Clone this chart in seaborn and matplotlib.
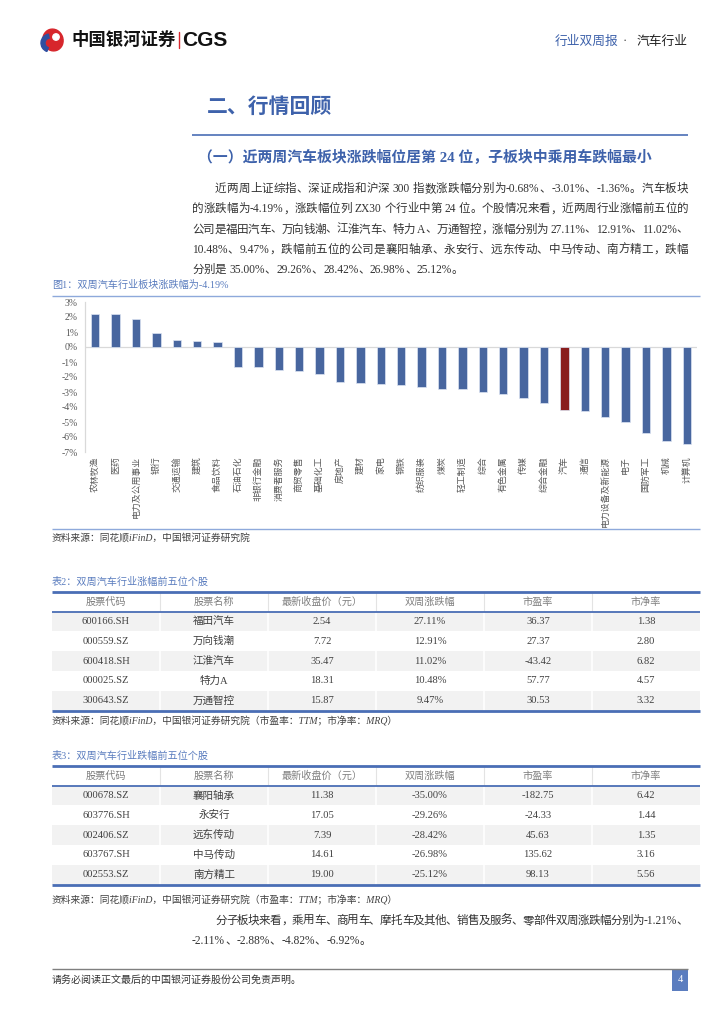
import re
import numpy as np
import pandas as pd
import matplotlib
matplotlib.use("Agg")
import matplotlib.pyplot as plt
import matplotlib.patches as mpatches
import seaborn as sns

# ---- data ----
industries = ['农林牧渔', '医药', '电力及公用事业', '银行', '交通运输', '建筑', '食品饮料',
              '石油石化', '非银行金融', '消费者服务', '商贸零售', '基础化工', '房地产', '建材',
              '家电', '钢铁', '纺织服装', '煤炭', '轻工制造', '综合', '有色金属', '传媒',
              '综合金融', '汽车', '通信', '电力设备及新能源', '电子', '国防军工', '机械', '计算机']
changes = [2.22, 2.18, 1.89, 0.93, 0.44, 0.42, 0.31,
           -1.35, -1.36, -1.56, -1.58, -1.80, -2.36, -2.42,
           -2.49, -2.56, -2.69, -2.78, -2.82, -3.00, -3.13, -3.40,
           -3.73, -4.19, -4.29, -4.69, -4.98, -5.71, -6.29, -6.49]
y_ticks = list(range(-7, 4))

table_header = ['股票代码', '股票名称', '最新收盘价（元）', '双周涨跌幅', '市盈率', '市净率']

up_code = ['600166.SH', '000559.SZ', '600418.SH', '000025.SZ', '300643.SZ']
up_name = ['福田汽车', '万向钱潮', '江淮汽车', '特力A', '万通智控']
up_price = ['2.54', '7.72', '35.47', '18.31', '15.87']
up_chg = ['27.11%', '12.91%', '11.02%', '10.48%', '9.47%']
up_pe = ['36.37', '27.37', '-43.42', '57.77', '30.53']
up_pb = ['1.38', '2.80', '6.82', '4.57', '3.32']

dn_code = ['000678.SZ', '603776.SH', '002406.SZ', '603767.SH', '002553.SZ']
dn_name = ['襄阳轴承', '永安行', '远东传动', '中马传动', '南方精工']
dn_price = ['11.38', '17.05', '7.39', '14.61', '19.00']
dn_chg = ['-35.00%', '-29.26%', '-28.42%', '-26.98%', '-25.12%']
dn_pe = ['-182.75', '-24.33', '45.63', '135.62', '98.13']
dn_pb = ['6.42', '1.44', '1.35', '3.16', '5.56']

para1 = ['近两周上证综指、深证成指和沪深 300 指数涨跌幅分别为-0.68%、-3.01%、-1.36%。汽车板块',
         '的涨跌幅为-4.19%，涨跌幅位列 ZX30 个行业中第 24 位。个股情况来看，近两周行业涨幅前五位的',
         '公司是福田汽车、万向钱潮、江淮汽车、特力 A、万通智控，涨幅分别为 27.11%、12.91%、11.02%、',
         '10.48%、9.47%，跌幅前五位的公司是襄阳轴承、永安行、远东传动、中马传动、南方精工，跌幅',
         '分别是 35.00%、29.26%、28.42%、26.98%、25.12%。']
para2 = ['分子板块来看，乘用车、商用车、摩托车及其他、销售及服务、零部件双周涨跌幅分别为-1.21%、',
         '-2.11%、-2.88%、-4.82%、-6.92%。']

BLUE = '#3E62AB'
BAR_BLUE = '#3A62AD'
RED = '#9B0B0B'
GRAY_TXT = '#404040'
LINE_BLUE = '#8EA9DB'

sns.set_theme(style="white")
plt.rcParams['font.family'] = ['Liberation Serif', 'Noto Sans CJK SC', 'DejaVu Sans']
plt.rcParams['axes.unicode_minus'] = False

fig = plt.figure(figsize=(7.24, 10.24), dpi=100)
page = fig.add_axes([0, 0, 1, 1])
page.set_xlim(0, 724)
page.set_ylim(1024, 0)
page.axis('off')
renderer = fig.canvas.get_renderer()


def txt(x, y, s, **kw):
    kw.setdefault('va', 'center')
    kw.setdefault('color', GRAY_TXT)
    return page.text(x, y, s, **kw)


def hline(x0, x1, y, color, lw):
    page.plot([x0, x1], [y, y], color=color, lw=lw, solid_capstyle='butt')


def justify(x0, x1, y, line, fs, last=False):
    # spread the tokens of one line evenly between x0 and x1
    toks = re.findall(r'[0-9A-Za-z.%\-]+|.', line)
    arts, widths = [], []
    for t in toks:
        a = txt(0, y, t, fontsize=fs, color='#333333')
        w = a.get_window_extent(renderer).width
        if t == ' ':
            w = fs * 0.35
        arts.append(a)
        widths.append(w)
    extra = 0 if last else (x1 - x0 - sum(widths)) / (len(toks) - 1)
    x = x0
    for a, w in zip(arts, widths):
        a.set_x(x)
        x += w + extra


def paragraph(lines, y0, fs=8.3):
    for i, line in enumerate(lines):
        justify(215 if i == 0 else 192, 688, y0 + i * 20.3, line, fs, last=(i == len(lines) - 1))


# header / logo
page.add_patch(mpatches.Ellipse((53, 40), 20, 22, angle=-20, color='#D7262C'))
page.add_patch(mpatches.Wedge((50, 43), 9, 110, 260, width=4, color='#2E4FA0'))
page.add_patch(mpatches.Circle((56, 37), 3.2, color='white'))
txt(71, 40, '中国银河证券', fontsize=12.5, weight='bold', color='#111111',
    family=['Noto Sans CJK SC'])
page.plot([178.5, 178.5], [32, 48], color='#D7262C', lw=1)
txt(182, 40.5, 'CGS', fontsize=15, weight='bold', color='#111111', family=['Liberation Sans'])
txt(555, 41, '行业双周报', fontsize=9.2, color=BLUE, family=['Noto Sans CJK SC'])
txt(623, 41, '·', fontsize=9, color=GRAY_TXT)
txt(637, 41, '汽车行业', fontsize=9.2, color='#222222', family=['Noto Sans CJK SC'])

# section title
txt(207, 108, '二、行情回顾', fontsize=15, weight='bold', color=BLUE)
hline(192, 688, 135, '#4A6EB5', 1.2)
txt(198, 158, '（一）近两周汽车板块涨跌幅位居第 24 位，子板块中乘用车跌幅最小',
    fontsize=10.7, weight='bold', color=BLUE)

paragraph(para1, 189)

# figure 1
txt(52, 285, '图1：双周汽车行业板块涨跌幅为-4.19%', fontsize=7.3, color='#5B7DBF')
hline(52, 700, 295.5, LINE_BLUE, 1)

ax = fig.add_axes([85 / 724, 1 - 452 / 1024, 612 / 724, 150 / 1024])
df = pd.DataFrame({'industry': industries, 'change': changes})
df['kind'] = np.where(df['industry'] == '汽车', 'auto', 'other')
sns.barplot(data=df, x='industry', y='change', hue='kind',
            palette={'auto': RED, 'other': BAR_BLUE}, dodge=False, legend=False,
            width=0.42, edgecolor='#DCE4F2', linewidth=0.5, ax=ax)
ax.set_ylim(-7, 3)
ax.set_xlim(-0.5, len(industries) - 0.5)
ax.set_yticks(y_ticks)
ax.set_yticklabels([f'{v}%' for v in y_ticks])
ax.axhline(0, color='#D9D9D9', lw=0.9, zorder=0)
ax.set_xlabel('')
ax.set_ylabel('')
for s in ['top', 'right', 'bottom']:
    ax.spines[s].set_visible(False)
ax.spines['left'].set_color('#D9D9D9')
ax.spines['left'].set_linewidth(0.9)
ax.tick_params(axis='both', length=0, colors='#595959')
ax.tick_params(axis='y', pad=5, labelsize=7)
ax.tick_params(axis='x', pad=3, labelsize=6.4)
ax.set_xticks(range(len(industries)))
ax.set_xticklabels(industries, rotation=90, va='top', ha='center',
                   family=['Noto Sans CJK SC'])
ax.patch.set_alpha(0)

hline(52, 700, 528.5, LINE_BLUE, 1)
txt(52, 538, '资料来源：同花顺iFinD，中国银河证券研究院', fontsize=7, style='italic')


# tables
def draw_table(title_y, title, top, cols):
    txt(52, title_y, title, fontsize=7.3, color='#5B7DBF')
    x0, x1 = 52, 700
    cw = (x1 - x0) / 6
    hh, rh = 19.5, 19.8
    n = len(cols[0])
    for r in range(n):
        y = top + hh + r * rh
        if r % 2 == 0:
            page.add_patch(mpatches.Rectangle((x0, y), x1 - x0, rh, color='#F2F2F2', lw=0))
    bottom = top + hh + n * rh
    for c in range(1, 6):
        xc = x0 + c * cw
        page.plot([xc, xc], [top, top + hh], color='#E3E3E3', lw=0.8)
        page.plot([xc, xc], [top + hh, bottom], color='white', lw=1.2)
    hline(x0, x1, top, '#4A6EB5', 2)
    hline(x0, x1, top + hh, '#4A6EB5', 1.3)
    hline(x0, x1, bottom, '#4A6EB5', 2)
    for c, h in enumerate(table_header):
        txt(x0 + (c + 0.5) * cw, top + hh / 2, h, ha='center', fontsize=7.3, color='#7F7F7F')
    for c, col in enumerate(cols):
        for r, v in enumerate(col):
            txt(x0 + (c + 0.5) * cw, top + hh + (r + 0.5) * rh, v, ha='center',
                fontsize=7.6, color=GRAY_TXT)


draw_table(582, '表2：双周汽车行业涨幅前五位个股', 592,
           [up_code, up_name, up_price, up_chg, up_pe, up_pb])
txt(52, 721, '资料来源：同花顺iFinD，中国银河证券研究院（市盈率：TTM；市净率：MRQ）',
    fontsize=7, style='italic')
draw_table(756, '表3：双周汽车行业跌幅前五位个股', 766,
           [dn_code, dn_name, dn_price, dn_chg, dn_pe, dn_pb])
txt(52, 900, '资料来源：同花顺iFinD，中国银河证券研究院（市盈率：TTM；市净率：MRQ）',
    fontsize=7, style='italic')

paragraph(para2, 921)

# footer
hline(52, 688, 968.5, '#7F7F7F', 1)
txt(52, 980, '请务必阅读正文最后的中国银河证券股份公司免责声明。', fontsize=7.2, color='#333333')
page.add_patch(mpatches.Rectangle((672, 969), 16, 22, color='#5B7DBF', lw=0))
txt(680, 980, '4', ha='center', fontsize=7.5, color='white')

fig.savefig('out.png', dpi=100)
